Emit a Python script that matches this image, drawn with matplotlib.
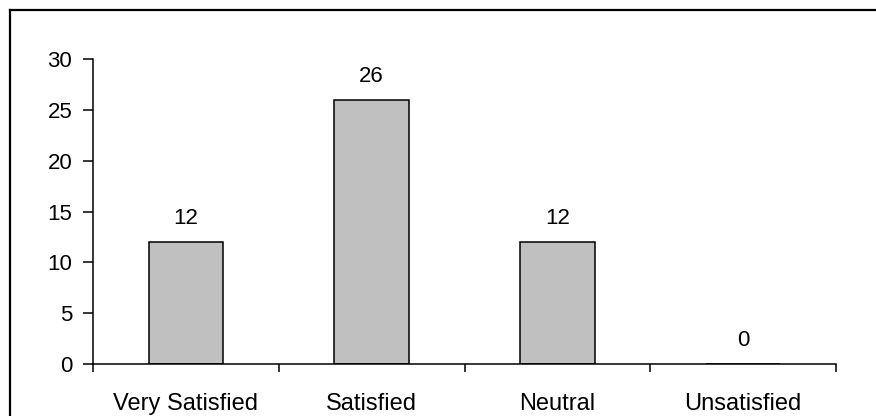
import matplotlib
matplotlib.use("Agg")
import matplotlib.pyplot as plt
from matplotlib.lines import Line2D
import numpy as np

categories = ["Very Satisfied", "Satisfied", "Neutral", "Unsatisfied"]
counts = [12, 26, 12, 0]
y_ticks = [0, 5, 10, 15, 20, 25, 30]

plt.rcParams["font.family"] = ["Liberation Sans", "DejaVu Sans"]
FS_NUM = 16
FS_CAT = 17

W, H = 876, 416
fig = plt.figure(figsize=(W / 100, H / 100), dpi=100)
ax = fig.add_axes([93 / W, 1 - 364 / H, (836 - 93) / W, (364 - 59) / H])

x = np.arange(len(categories))
ax.bar(x, counts, width=0.40, color="#c0c0c0", edgecolor="black", linewidth=1.1, zorder=2)

for xi, v in zip(x, counts):
    ax.annotate(str(v), (xi, v), xytext=(0, 9), textcoords="offset points",
                ha="center", va="bottom", fontsize=FS_NUM)

ax.set_xlim(-0.5, len(categories) - 0.5)
ax.set_ylim(0, 30)
ax.set_yticks(y_ticks)
ax.tick_params(axis="y", direction="out", length=7, width=1.1, pad=8, labelsize=FS_NUM)

ax.set_xticks(x)
ax.set_xticklabels(categories, fontsize=FS_CAT)
ax.tick_params(axis="x", which="major", length=0, pad=21)
ax.set_xticks(np.arange(-0.5, len(categories)), minor=True)
ax.tick_params(axis="x", which="minor", direction="out", length=6, width=1.1)

for side in ("top", "right"):
    ax.spines[side].set_visible(False)
for side in ("left", "bottom"):
    ax.spines[side].set_linewidth(1.1)

# chart-area frame: top and left edges
fx, fy = 9.5 / W, 1 - 9.5 / H
fig.add_artist(Line2D([fx, 1.0], [fy, fy], transform=fig.transFigure, color="black", lw=1.6))
fig.add_artist(Line2D([fx, fx], [0.0, fy], transform=fig.transFigure, color="black", lw=1.6))

fig.savefig("out.png", dpi=100)
